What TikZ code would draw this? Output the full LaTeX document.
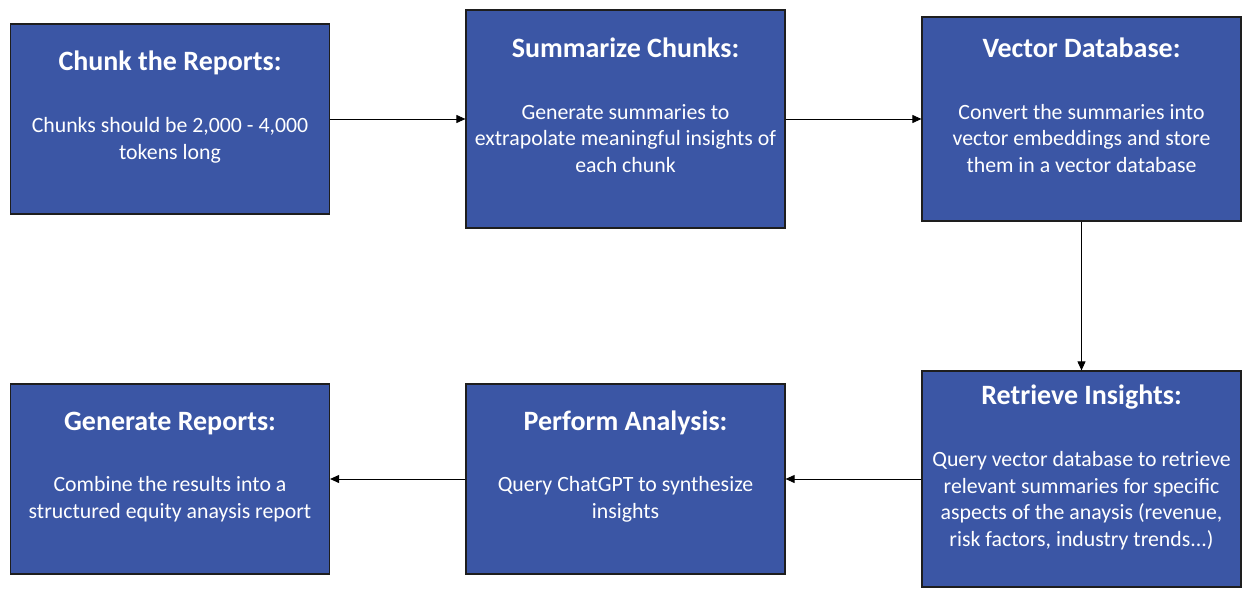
\documentclass[tikz,border=0pt]{standalone}
\usepackage{fontspec}
\setmainfont{Carlito}
\usepackage{tikz}
\usetikzlibrary{arrows.meta, positioning}
\definecolor{stageblue}{RGB}{59, 86, 165}
\definecolor{edgegray}{RGB}{30, 30, 30}

\begin{document}
\begin{tikzpicture}[
    x=1pt, y=-1pt,
    stage/.style={rectangle, fill=stageblue, draw=edgegray, line width=1.2pt, minimum width=319pt, inner sep=0pt},
    stagehead/.style={anchor=base, text=white, font=\fontsize{28}{33}\selectfont\bfseries, inner sep=0pt},
    stagebody/.style={anchor=base, text=white, align=center, font=\fontsize{21.8}{26.5}\selectfont, inner sep=0pt},
    arrow/.style={-{Triangle[length=9pt, width=8pt]}, line width=0.9pt, black}
]
    \useasboundingbox (0,0) rectangle (1258,599);

    % Top row
    \node[stage, minimum height=190pt] (chunk) at (170,119) {};
    \node[stage, minimum height=218pt] (summarize) at (625.5,119) {};
    \node[stage, minimum height=204pt] (vectordb) at (1081.5,119) {};

    % body nodes sit on the baseline of their last line
    \node[stagehead] (chunk-head) at (170,71) {Chunk the Reports:};
    \node[stagebody] (chunk-body) at (170,159) {Chunks should be 2,000 - 4,000\\tokens long};

    \node[stagehead] (summarize-head) at (625.5,58) {Summarize Chunks:};
    \node[stagebody] (summarize-body) at (625.5,172) {Generate summaries to\\extrapolate meaningful insights of\\each chunk};

    \node[stagehead] (vectordb-head) at (1081.5,58) {Vector Database:};
    \node[stagebody] (vectordb-body) at (1081.5,172) {Convert the summaries into\\vector embeddings and store\\them in a vector database};

    % Bottom row
    \node[stage, minimum height=190pt] (report) at (170,479) {};
    \node[stage, minimum height=190pt] (analysis) at (625.5,479) {};
    \node[stage, minimum height=216pt] (retrieve) at (1081.5,479) {};

    \node[stagehead] (retrieve-head) at (1081.5,404) {Retrieve Insights:};
    \node[stagebody] (retrieve-body) at (1081.5,546) {Query vector database to retrieve\\relevant summaries for specific\\aspects of the anaysis (revenue,\\risk factors, industry trends...)};

    \node[stagehead] (analysis-head) at (625.5,430) {Perform Analysis:};
    \node[stagebody] (analysis-body) at (625.5,518) {Query ChatGPT to synthesize\\insights};

    \node[stagehead] (report-head) at (170,430) {Generate Reports:};
    \node[stagebody] (report-body) at (170,518) {Combine the results into a\\structured equity anaysis report};

    % Flow
    \draw[arrow] (chunk) -- (summarize);
    \draw[arrow] (summarize) -- (vectordb);
    \draw[arrow] (vectordb) -- (retrieve);
    \draw[arrow] (retrieve) -- (analysis);
    \draw[arrow] (analysis) -- (report);

\end{tikzpicture}
\end{document}
